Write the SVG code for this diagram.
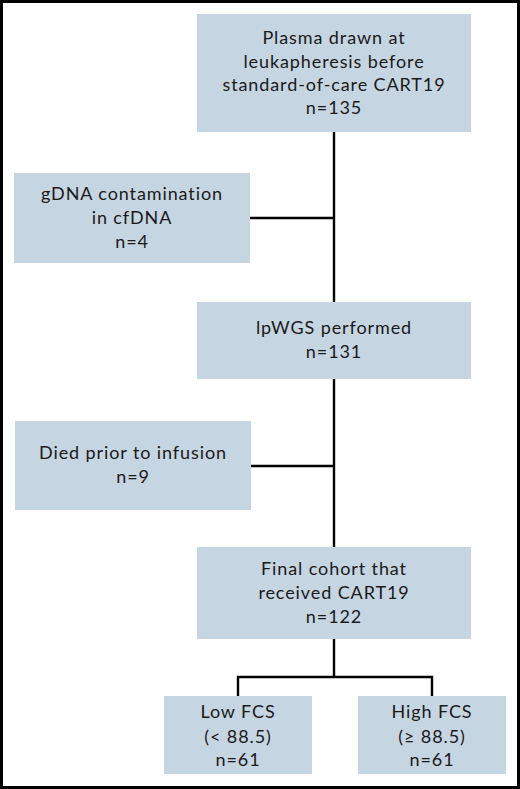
<svg xmlns="http://www.w3.org/2000/svg" width="520" height="789" viewBox="0 0 520 789">
<style>
.box{fill:#c6d5e2}
.t{font-family:Lato,"Noto Sans","Liberation Sans",sans-serif;font-size:18px;letter-spacing:0.9px;fill:#1a1a1a;text-anchor:middle}
.c{stroke:#000;stroke-width:2.4;fill:none}
</style>
<rect x="1.5" y="1.5" width="517" height="786" fill="#fff" stroke="#000" stroke-width="3"/>
<g id="connectors">
<path class="c" d="M334 132V547M250 218H334M251 466H334M334 639V677M238 696V677H432V696"/>
</g>
<g id="n1"><rect class="box" x="197" y="14" width="274" height="118"/>
<text class="t"><tspan x="334" y="44">Plasma drawn at</tspan><tspan x="334" y="68">leukapheresis before</tspan><tspan x="334" y="91">standard-of-care CART19</tspan><tspan x="334" y="114">n=135</tspan></text></g>
<g id="n2"><rect class="box" x="14" y="173" width="236" height="90"/>
<text class="t"><tspan x="132" y="200">gDNA contamination</tspan><tspan x="132" y="224">in cfDNA</tspan><tspan x="132" y="248">n=4</tspan></text></g>
<g id="n3"><rect class="box" x="197" y="302" width="274" height="77"/>
<text class="t"><tspan x="334" y="334">lpWGS performed</tspan><tspan x="334" y="358">n=131</tspan></text></g>
<g id="n4"><rect class="box" x="15" y="421" width="236" height="89"/>
<text class="t"><tspan x="133" y="459">Died prior to infusion</tspan><tspan x="133" y="483">n=9</tspan></text></g>
<g id="n5"><rect class="box" x="197" y="547" width="274" height="92"/>
<text class="t"><tspan x="334" y="575">Final cohort that</tspan><tspan x="334" y="599">received CART19</tspan><tspan x="334" y="623">n=122</tspan></text></g>
<g id="n6"><rect class="box" x="164" y="696" width="148" height="78"/>
<text class="t"><tspan x="238" y="718">Low FCS</tspan><tspan x="238" y="743">(&lt; 88.5)</tspan><tspan x="238" y="766">n=61</tspan></text></g>
<g id="n7"><rect class="box" x="358" y="696" width="148" height="78"/>
<text class="t"><tspan x="432" y="718">High FCS</tspan><tspan x="432" y="743">(≥ 88.5)</tspan><tspan x="432" y="766">n=61</tspan></text></g>
</svg>
